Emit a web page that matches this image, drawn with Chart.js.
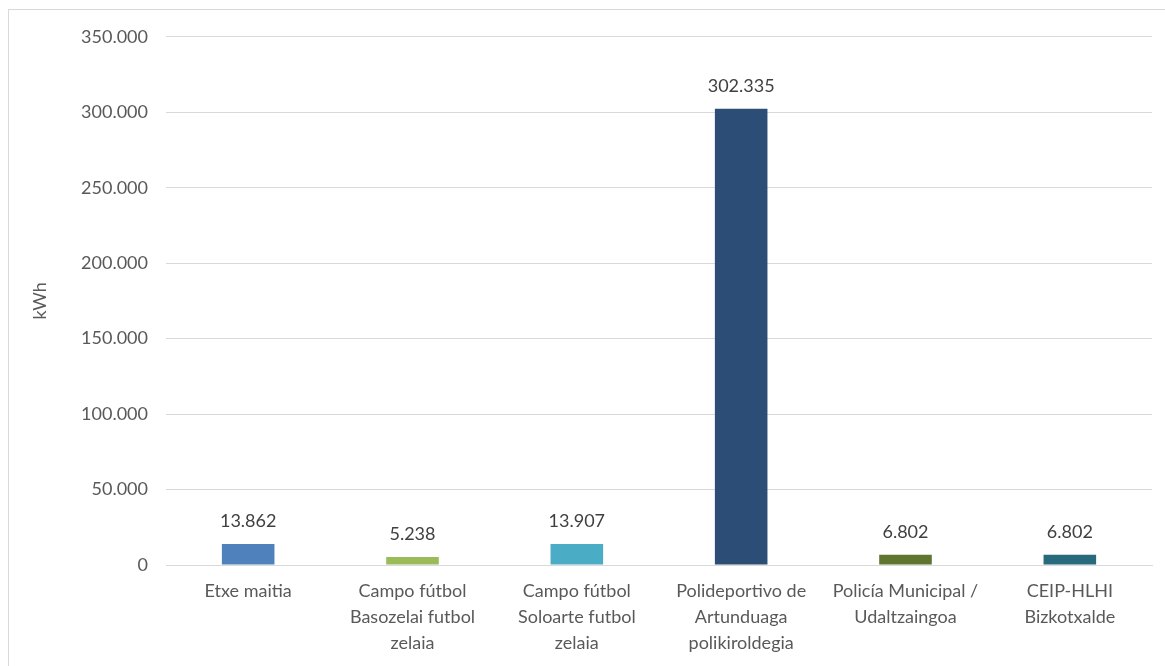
<!DOCTYPE html>
<html>
<head>
<meta charset="utf-8">
<script src="https://cdn.jsdelivr.net/npm/chart.js@4/dist/chart.umd.min.js"></script>
<style>
  html, body { margin: 0; padding: 0; background: #fff; overflow: hidden; }
  #box { position: absolute; left: 8px; top: 9px; width: 1165px; height: 666px; border: 1px solid #D9D9D9; }
  #wrap { position: absolute; left: 0; top: -2px; width: 1157px; height: 659px; }
</style>
</head>
<body>
<div id="box"><div id="wrap"><canvas id="kwhChart"></canvas></div></div>
<script>
// Catégories (lignes des étiquettes)
const categories = [
    ['Etxe maitia'],
    ['Campo fútbol', 'Basozelai futbol', 'zelaia'],
    ['Campo fútbol', 'Soloarte futbol', 'zelaia'],
    ['Polideportivo de', 'Artunduaga', 'polikiroldegia'],
    ['Policía Municipal /', 'Udaltzaingoa'],
    ['CEIP-HLHI', 'Bizkotxalde']
];
const values = [13862, 5238, 13907, 302335, 6802, 6802];
const barColors = ['#4F81BD', '#9BBB59', '#4BACC6', '#2C4D75', '#5F7530', '#276A7C'];
const yMax = 350000;
const yStep = 50000;

const textColor = '#595959';
const fontFamily = 'Lato, "Open Sans", sans-serif';

// Format 13862 -> 13.862
function fmt(v) {
    return String(Math.round(v)).replace(/\B(?=(\d{3})+(?!\d))/g, '.');
}

// Étiquettes de valeur au-dessus des barres
const valueLabels = {
    id: 'valueLabels',
    afterDatasetsDraw(chart) {
        const ctx = chart.ctx;
        const meta = chart.getDatasetMeta(0);
        ctx.save();
        ctx.font = '18px ' + fontFamily;
        ctx.fillStyle = '#404040';
        ctx.textAlign = 'center';
        ctx.textBaseline = 'middle';
        meta.data.forEach((bar, i) => {
            ctx.fillText(fmt(values[i]), bar.x, bar.y - 23);
        });
        ctx.restore();
    }
};

new Chart(document.getElementById('kwhChart'), {
    type: 'bar',
    data: {
        labels: categories,
        datasets: [{
            data: values,
            backgroundColor: barColors,
            borderWidth: 0,
            categoryPercentage: 1,
            barPercentage: 0.32
        }]
    },
    options: {
        responsive: true,
        maintainAspectRatio: false,
        animation: false,
        layout: { padding: { left: 0, right: 14, top: 24, bottom: 0 } },
        plugins: {
            legend: { display: false },
            tooltip: { enabled: false }
        },
        scales: {
            y: {
                min: 0,
                max: yMax,
                ticks: {
                    stepSize: yStep,
                    padding: 18,
                    color: textColor,
                    font: { family: fontFamily, size: 18 },
                    callback: v => fmt(v)
                },
                grid: { color: '#D9D9D9', lineWidth: 1, drawTicks: false },
                border: { display: false },
                title: {
                    display: true,
                    text: 'kWh',
                    color: textColor,
                    font: { family: fontFamily, size: 18 },
                    padding: { top: 20, bottom: 0 }
                },
                afterFit(scale) { scale.width = 157; }
            },
            x: {
                ticks: {
                    color: textColor,
                    font: { family: fontFamily, size: 18, lineHeight: 1.45 },
                    padding: 13,
                    maxRotation: 0,
                    autoSkip: false
                },
                grid: { display: false, drawTicks: false },
                border: { color: '#D9D9D9' },
                afterFit(scale) { scale.height = 102; }
            }
        }
    },
    plugins: [valueLabels]
});
</script>
</body>
</html>
